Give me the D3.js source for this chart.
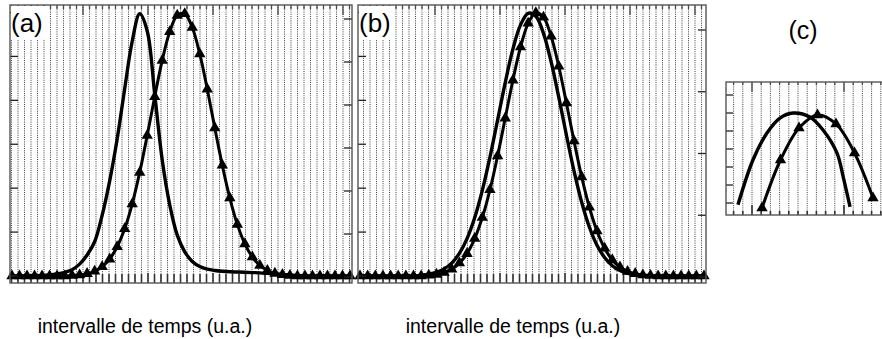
<!DOCTYPE html>
<html>
<head>
<meta charset="utf-8">
<script src="https://cdn.jsdelivr.net/npm/d3@7"></script>
<style>
  body { margin: 0; background: #fff; }
  svg { display: block; }
</style>
</head>
<body>
<svg id="chart" width="882" height="339"></svg>
<script>
// time steps (a.u.) shared by panels (a) and (b)
const steps = d3.range(46);

// panel (a)
const aTriangles = [0,0,0,0,0,0,0,0,
  0.002,0.004,0.009,0.018,0.035,0.064,0.111,0.179,0.273,0.393,0.533,0.680,0.818,0.927,0.989,
  0.995,0.943,0.843,0.709,0.562,0.420,0.296,0.196,0.122,0.072,0.040,0.021,0.010,0.005,0.002,
  0,0,0,0,0,0,0,0];
const aSolid = [0,0,0,0.001,0.002,0.004,0.008,0.014,0.024,0.045,0.08,0.13,0.23,0.36,0.52,
  0.71,0.89,0.995,0.93,0.69,0.44,0.27,0.155,0.092,0.055,0.036,0.026,0.021,0.018,0.016,
  0.015,0.014,0.013,0.012,0.010,0.008,0.006,0.004,0.002,0.001,0,0,0,0,0,0];

// panel (b)
const bTriangles = [0,0,0,0,0,0,0,0,0,
  0.003,0.006,0.013,0.026,0.049,0.085,0.142,0.222,0.327,0.456,0.599,0.743,0.869,0.959,0.999,
  0.982,0.910,0.796,0.657,0.512,0.376,0.261,0.171,0.105,0.061,0.034,0.017,0.009,0.004,0.002,
  0,0,0,0,0,0,0];
const bSolid = [0,0,0,0,0,0,0,0,
  0.003,0.007,0.014,0.027,0.049,0.086,0.142,0.221,0.325,0.451,0.592,0.734,0.861,0.953,0.997,
  0.986,0.921,0.813,0.679,0.535,0.398,0.280,0.186,0.117,0.070,0.039,0.021,0.010,0.005,0.002,
  0,0,0,0,0,0,0,0];

// panel (c), zoom on the peaks
const cSteps = [0,1,2,3,4,5,6];
const cTriangles = [-0.055,0.478,0.833,0.978,0.878,0.556,0.056];
const cSolidX = [-1.30,-0.49,0.27,0.97,1.68,2.59,3.30,4.05,4.40,4.76];
const cSolidY = [-0.02,0.478,0.778,0.944,1.0,0.956,0.811,0.556,0.28,-0.044];

// tick values
const leftTicks = [0,1,2,3,4,5,6];
const rightTicksA = [0,1,2,3,4,5,6];
const rightTicksB = [0,1,2,3,4];
const cTicks = [0,0.2,0.4,0.6,0.8,1.0,1.2];

const xLabel = 'intervalle de temps (u.a.)';
const font = "'Liberation Sans', Arial, Helvetica, sans-serif";

const svg = d3.select('#chart');
const tri = d3.symbol().type(d3.symbolTriangle).size(56);

function grid(g, gx, x0, x1, y0, y1, minorTop, minorBottom) {
  const ks = d3.range(-2, 60).filter(k => gx(k) > x0 + 1 && gx(k) < x1 - 1);
  g.selectAll('line.grid')
    .data(ks)
    .enter().append('line')
    .attr('class', 'grid')
    .attr('x1', k => gx(k)).attr('x2', k => gx(k))
    .attr('y1', y0).attr('y2', y1)
    .attr('stroke', '#000')
    .attr('stroke-width', 1)
    .attr('stroke-dasharray', '1,1.2')
    .attr('opacity', 0.75);
  g.selectAll('line.tb')
    .data(ks)
    .enter().append('line')
    .attr('x1', k => gx(k)).attr('x2', k => gx(k))
    .attr('y1', y1).attr('y2', k => y1 - (k % 10 === 0 ? 10 : minorBottom))
    .attr('stroke', '#333')
    .attr('stroke-width', 1.6);
  g.selectAll('line.tt')
    .data(ks)
    .enter().append('line')
    .attr('x1', k => gx(k)).attr('x2', k => gx(k))
    .attr('y1', y0).attr('y2', k => y0 + (k % 10 === 0 ? 10 : minorTop))
    .attr('stroke', '#444')
    .attr('stroke-width', 1.3);
}

function curves(g, x, y, xs, solid, triX, triY) {
  const line = d3.line().curve(d3.curveCatmullRom.alpha(0.5))
    .x(d => x(d[0])).y(d => y(d[1]));
  g.append('path')
    .datum(xs.map((v, i) => [v, solid[i]]))
    .attr('d', line)
    .attr('fill', 'none').attr('stroke', '#000').attr('stroke-width', 3.4);
  const pts = triX.map((v, i) => [v, triY[i]]);
  g.append('path')
    .datum(pts)
    .attr('d', line)
    .attr('fill', 'none').attr('stroke', '#000').attr('stroke-width', 3);
  g.selectAll('path.mark')
    .data(pts)
    .enter().append('path')
    .attr('class', 'mark')
    .attr('transform', d => `translate(${x(d[0])},${y(d[1])})`)
    .attr('d', tri)
    .attr('fill', '#000');
}

function panel(cfg) {
  const g = svg.append('g');
  const top = 5, bottom = 283;
  const x = d3.scaleLinear().domain([0, 45]).range([cfg.x0 + 2, cfg.x1 - 2]);
  const y = d3.scaleLinear().domain([0, 1]).range([276, 12.5]);
  const gx = d3.scaleLinear().domain([0, 10]).range([cfg.major0, cfg.major0 + 65]);

  grid(g, gx, cfg.x0, cfg.x1, top, bottom, 4, 9);
  curves(g, x, y, steps, cfg.solid, steps, cfg.triangles);

  // left / right ticks
  const yL = d3.scaleLinear().domain([0, 6]).range([276, 12.5]);
  g.selectAll('line.yl')
    .data(leftTicks)
    .enter().append('line')
    .attr('x1', cfg.x0).attr('x2', cfg.x0 + 8)
    .attr('y1', d => yL(d)).attr('y2', d => yL(d))
    .attr('stroke', '#222').attr('stroke-width', 1.3);
  const yR = d3.scaleLinear().domain([0, cfg.rightTicks.length - 1]).range([277, cfg.rightTop]);
  g.selectAll('line.yr')
    .data(cfg.rightTicks)
    .enter().append('line')
    .attr('x1', cfg.x1 - 8).attr('x2', cfg.x1)
    .attr('y1', d => yR(d)).attr('y2', d => yR(d))
    .attr('stroke', '#222').attr('stroke-width', 1.3);

  g.append('rect')
    .attr('x', cfg.x0 + 1).attr('y', top + 1)
    .attr('width', 35).attr('height', 33)
    .attr('fill', '#fff');
  g.append('text')
    .attr('x', cfg.x0 + 1).attr('y', 32)
    .attr('font-family', font).attr('font-size', 26)
    .text(cfg.name);

  g.append('rect')
    .attr('x', cfg.x0).attr('y', top)
    .attr('width', cfg.x1 - cfg.x0).attr('height', bottom - top)
    .attr('fill', 'none').attr('stroke', '#555').attr('stroke-width', 1.4);

  g.append('text')
    .attr('x', cfg.labelX).attr('y', 333)
    .attr('text-anchor', 'middle')
    .attr('font-family', font).attr('font-size', 19.5)
    .text(xLabel);
}

panel({ name: '(a)', x0: 10, x1: 352, major0: 18, rightTop: 19, rightTicks: rightTicksA,
  solid: aSolid, triangles: aTriangles, labelX: 145 });
panel({ name: '(b)', x0: 358, x1: 706, major0: 370, rightTop: 30, rightTicks: rightTicksB,
  solid: bSolid, triangles: bTriangles, labelX: 513 });

// panel (c)
{
  const g = svg.append('g');
  const x0 = 726, x1 = 884, top = 82, bottom = 215;
  const x = d3.scaleLinear().domain([0, 6]).range([762, 873]);
  const y = d3.scaleLinear().domain([0, 1]).range([203, 113]);
  const gx = d3.scaleLinear().domain([0, 10]).range([752, 844]);

  grid(g, gx, x0, x1, top, bottom, 3, 4);
  curves(g, x, y, cSolidX, cSolidY, cSteps, cTriangles);

  g.selectAll('line.yl')
    .data(cTicks)
    .enter().append('line')
    .attr('x1', x0).attr('x2', x0 + 7)
    .attr('y1', d => y(d)).attr('y2', d => y(d))
    .attr('stroke', '#222').attr('stroke-width', 1.3);

  g.append('rect')
    .attr('x', x0).attr('y', top)
    .attr('width', x1 - x0).attr('height', bottom - top)
    .attr('fill', 'none').attr('stroke', '#555').attr('stroke-width', 1.4);

  g.append('text')
    .attr('x', 803).attr('y', 39)
    .attr('text-anchor', 'middle')
    .attr('font-family', font).attr('font-size', 25)
    .text('(c)');
}
</script>
</body>
</html>
